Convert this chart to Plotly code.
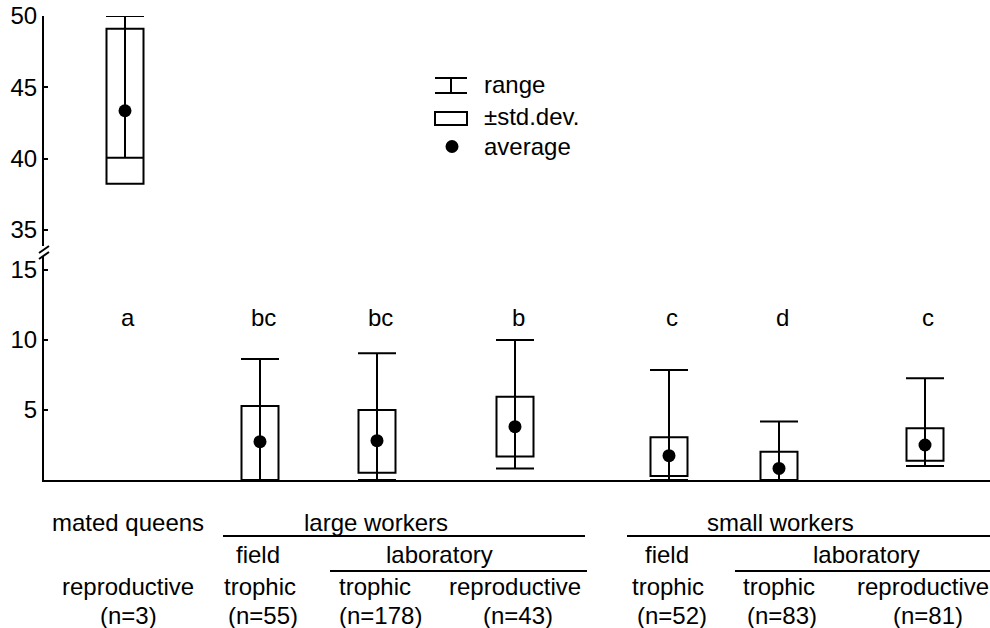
import plotly.graph_objects as go

# ---- data -------------------------------------------------------------
groups = ["mated queens reproductive", "large field trophic", "large lab trophic",
          "large lab reproductive", "small field trophic", "small lab trophic",
          "small lab reproductive"]
n_sizes = [3, 55, 178, 43, 52, 83, 81]
x_pos = [125, 260, 377, 515, 669, 779, 925]

mean_vals = [43.36, 2.74, 2.81, 3.81, 1.74, 0.83, 2.50]
sd_low = [38.25, 0.0, 0.52, 1.67, 0.29, 0.0, 1.38]
sd_high = [49.10, 5.29, 5.00, 5.95, 3.05, 2.02, 3.69]
range_min = [40.07, 0.0, 0.0, 0.83, 0.0, 0.0, 1.00]
range_max = [50.00, 8.64, 9.05, 10.00, 7.86, 4.17, 7.26]
letters = ["a", "bc", "bc", "b", "c", "d", "c"]

# ---- layout constants -------------------------------------------------
W, H = 990, 628
M_L, M_R, M_T, M_B = 44, 0, 16, 148
PLOT_H = H - M_T - M_B
FONT = "Liberation Sans, Arial, sans-serif"
FS = 24
LW = 2


def py(px):
    """Pixel row -> paper y coordinate."""
    return (H - M_B - px) / PLOT_H


def px_x(px):
    """Pixel column -> paper x coordinate."""
    return (px - M_L) / (W - M_L - M_R)


fig = go.Figure()

# queens live on the upper (broken) axis, workers on the lower one
top_idx = [0]
bot_idx = [1, 2, 3, 4, 5, 6]

for idx, yax in ((top_idx, "y2"), (bot_idx, "y")):
    fig.add_trace(go.Bar(
        x=[x_pos[i] for i in idx],
        base=[sd_low[i] for i in idx],
        y=[sd_high[i] - sd_low[i] for i in idx],
        width=37,
        marker=dict(color="white", line=dict(color="black", width=LW)),
        yaxis=yax, showlegend=False, hoverinfo="skip",
    ))
    fig.add_trace(go.Scatter(
        x=[x_pos[i] for i in idx],
        y=[mean_vals[i] for i in idx],
        mode="markers",
        marker=dict(size=13, color="black"),
        error_y=dict(type="data", symmetric=False,
                     array=[range_max[i] - mean_vals[i] for i in idx],
                     arrayminus=[mean_vals[i] - range_min[i] for i in idx],
                     color="black", thickness=LW, width=19),
        cliponaxis=False, yaxis=yax, showlegend=False,
    ))

annotations = []
shapes = []

# significance letters
for xi, lt in zip(x_pos, letters):
    annotations.append(dict(x=xi + 3, y=11.64, xref="x", yref="y", text=lt,
                            showarrow=False, font=dict(size=FS)))

# group headers below the axis
header_rows = [
    (522, [(128, "mated queens"), (376, "large workers"), (780, "small workers")]),
    (554, [(258, "field"), (439, "laboratory"), (667, "field"), (866, "laboratory")]),
    (586, [(128, "reproductive"), (260, "trophic"), (375, "trophic"),
           (515, "reproductive"), (668, "trophic"), (779, "trophic"),
           (923, "reproductive")]),
]
for yrow, items in header_rows:
    for xc, txt in items:
        annotations.append(dict(x=xc, y=py(yrow), xref="x", yref="paper", text=txt,
                                showarrow=False, yanchor="middle", font=dict(size=FS)))
for xi, n in zip(x_pos, n_sizes):
    annotations.append(dict(x=xi + 3, y=py(615), xref="x", yref="paper",
                            text=f"(n={n})", showarrow=False, yanchor="middle",
                            font=dict(size=FS)))

for x0, x1, yrow in [(223, 585, 536), (627, 990, 536), (330, 587, 571), (735, 990, 571)]:
    shapes.append(dict(type="line", xref="x", yref="paper", x0=x0, x1=x1,
                       y0=py(yrow), y1=py(yrow), line=dict(color="black", width=LW)))

# axis break marks
for y0 in (246, 252):
    shapes.append(dict(type="line", xref="paper", yref="paper",
                       x0=px_x(39), x1=px_x(49), y0=py(y0 + 7), y1=py(y0),
                       line=dict(color="black", width=LW)))

# key
shapes += [
    dict(type="line", xref="x", yref="paper", x0=435, x1=467, y0=py(78), y1=py(78),
         line=dict(color="black", width=LW)),
    dict(type="line", xref="x", yref="paper", x0=435, x1=467, y0=py(93), y1=py(93),
         line=dict(color="black", width=LW)),
    dict(type="line", xref="x", yref="paper", x0=451, x1=451, y0=py(78), y1=py(93),
         line=dict(color="black", width=LW)),
    dict(type="rect", xref="x", yref="paper", x0=435, x1=467, y0=py(112), y1=py(125),
         line=dict(color="black", width=LW)),
    dict(type="circle", xref="x", yref="paper", x0=445.5, x1=458.5, y0=py(140),
         y1=py(153), fillcolor="black", line=dict(color="black", width=0)),
]
for yrow, txt in [(84, "range"), (117, "±std.dev."), (146, "average")]:
    annotations.append(dict(x=482, y=py(yrow), xref="x", yref="paper", text=txt,
                            showarrow=False, xanchor="left", yanchor="middle",
                            font=dict(size=FS)))

axis_common = dict(showline=True, linecolor="black", linewidth=LW, ticks="inside",
                   ticklen=4, tickwidth=LW, tickcolor="black", showgrid=False,
                   zeroline=False, tickfont=dict(size=FS, color="black"))

fig.update_layout(
    width=W, height=H,
    margin=dict(l=M_L, r=M_R, t=M_T, b=M_B),
    paper_bgcolor="white", plot_bgcolor="white",
    font=dict(family=FONT, size=FS, color="black"),
    barmode="overlay",
    xaxis=dict(range=[M_L, W - M_R], showline=True, linecolor="black", linewidth=LW,
               showticklabels=False, ticks="", showgrid=False, zeroline=False,
               fixedrange=True),
    yaxis=dict(domain=[0, py(256)], range=[0, 16.0], tickvals=[5, 10, 15],
               **axis_common),
    yaxis2=dict(domain=[py(246), 1], range=[33.88, 50.0], tickvals=[35, 40, 45, 50],
                anchor="x", **axis_common),
    annotations=annotations,
    shapes=shapes,
)

fig.write_html("out.html")
